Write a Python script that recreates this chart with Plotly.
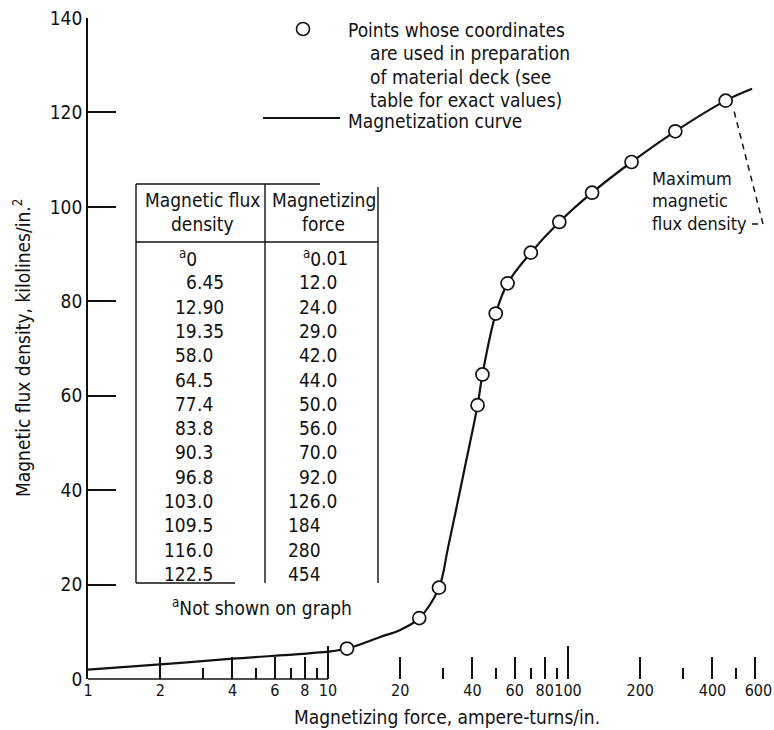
import math
import plotly.graph_objects as go

# ---------------- data ----------------
# table columns, as printed (first row is "not shown on graph")
flux_labels = ["0", "6.45", "12.90", "19.35", "58.0", "64.5", "77.4", "83.8",
               "90.3", "96.8", "103.0", "109.5", "116.0", "122.5"]
force_labels = ["0.01", "12.0", "24.0", "29.0", "42.0", "44.0", "50.0", "56.0",
                "70.0", "92.0", "126.0", "184", "280", "454"]

# plotted points (rows 2..14 of the table)
flux_density = [float(s) for s in flux_labels[1:]]
magnetizing_force = [float(s) for s in force_labels[1:]]

# magnetization curve
curve_force = [1, 2, 4, 10, 12, 16.5, 20, 24, 29, 31.6, 37.2, 42, 44, 50, 56,
               70, 92, 126, 184, 280, 454, 585]
curve_flux = [2.0, 3.1, 4.3, 5.8, 6.45, 8.9, 10.4, 12.9, 19.35, 27.7, 44.9,
              58.0, 64.5, 77.4, 83.8, 90.3, 96.8, 103.0, 109.5, 116.0, 122.5,
              125.0]

x_major_vals = [1, 2, 4, 6, 8, 10, 20, 40, 60, 80, 100, 200, 400, 600]
x_major_text = ["1", "2", "4", "6", "8", "10", "20", "40", "60", "80",
                "100", "200", "400", "\u2002600"]
x_minor_vals = [3, 5, 7, 9, 30, 50, 70, 90, 300, 500]
x_long_vals = [10, 100]
y_tick_vals = [0, 20, 40, 60, 80, 100, 120, 140]

# ---------------- layout geometry ----------------
W, H = 774, 730
ML, MR, MT, MB = 88, 14, 18, 51
XR = [0, 2.8]          # log10 range
YR = [0, 140]
PW = W - ML - MR
PH = H - MT - MB
INK = "#111111"
FONT = "DejaVu Sans Condensed, Liberation Sans Narrow, Arial Narrow, DejaVu Sans, sans-serif"
FS = 19


def xp(sx):
    """screen x (px) -> paper x"""
    return (sx - ML) / PW


def yp(sy):
    """screen y (px) -> paper y"""
    return (H - MB - sy) / PH


fig = go.Figure()

fig.add_trace(go.Scatter(
    x=curve_force, y=curve_flux, mode="lines",
    line=dict(color=INK, width=2.2, shape="spline", smoothing=1.0),
    hoverinfo="skip", showlegend=False))

fig.add_trace(go.Scatter(
    x=magnetizing_force, y=flux_density, mode="markers",
    marker=dict(symbol="circle", size=13, color="white",
                line=dict(color=INK, width=1.7)),
    showlegend=False))

# dummy trace so the overlay axis (long ticks) is rendered
fig.add_trace(go.Scatter(x=[10, 100], y=[None, None], xaxis="x2", yaxis="y",
                         mode="markers", showlegend=False, hoverinfo="skip"))

fig.update_layout(
    width=W, height=H,
    margin=dict(l=ML, r=MR, t=MT, b=MB, pad=0, autoexpand=False),
    paper_bgcolor="white", plot_bgcolor="white",
    font=dict(family=FONT, size=FS, color=INK),
    showlegend=False,
    xaxis=dict(
        type="log", range=XR, tickmode="array",
        tickvals=x_major_vals, ticktext=x_major_text, tickangle=0,
        ticks="inside", ticklen=22, tickwidth=1.6, tickcolor=INK,
        showline=False, showgrid=False, zeroline=False, automargin=False,
        tickfont=dict(family=FONT, size=16, color=INK),
        minor=dict(tickmode="array", tickvals=x_minor_vals, ticks="inside",
                   ticklen=11, tickwidth=1.6, tickcolor=INK, showgrid=False),
    ),
    xaxis2=dict(
        type="log", range=XR, overlaying="x", anchor="y", side="bottom",
        tickmode="array", tickvals=x_long_vals, ticks="inside", ticklen=33,
        tickwidth=1.6, tickcolor=INK, showticklabels=False, automargin=False,
        showline=False, showgrid=False, zeroline=False,
    ),
    yaxis=dict(
        range=YR, tickmode="array", tickvals=y_tick_vals,
        ticks="inside", ticklen=28, tickwidth=1.6, tickcolor=INK,
        showline=True, linewidth=1.8, linecolor=INK, automargin=False,
        showgrid=False, zeroline=False,
        tickfont=dict(family=FONT, size=FS, color=INK),
    ),
)

shapes = []
# partial x baseline (1 to 10)
shapes.append(dict(type="line", xref="paper", yref="paper",
                   x0=0, x1=(math.log10(10) - XR[0]) / (XR[1] - XR[0]),
                   y0=0, y1=0, line=dict(color=INK, width=1.6)))

# legend symbols
shapes.append(dict(type="circle", xref="paper", yref="paper",
                   xsizemode="pixel", ysizemode="pixel",
                   xanchor=xp(303), yanchor=yp(29),
                   x0=-6.5, x1=6.5, y0=-6.5, y1=6.5,
                   line=dict(color=INK, width=1.6), fillcolor="white"))
shapes.append(dict(type="line", xref="paper", yref="paper",
                   x0=xp(263), x1=xp(340), y0=yp(118), y1=yp(118),
                   line=dict(color=INK, width=1.8)))

# leader for "Maximum magnetic flux density"
shapes.append(dict(type="path", xref="paper", yref="paper",
                   path=f"M {xp(752)},{yp(224)} L {xp(763)},{yp(224)} L {xp(733)},{yp(107)}",
                   line=dict(color=INK, width=1.5, dash="6px,5px")))

# table frame
TL, TD, TR = 136, 265, 378
TT, TH, TB = 184, 242, 583
for (x0, y0, x1, y1) in [
    (TL, TT, TL, TB),      # left
    (TL, TT, 320, TT),     # top
    (TD, TT, TD, TB),      # divider
    (TR, 187, TR, TB),     # right
    (TL, TH, TR, TH),      # header rule
    (TL, TB, 235, TB),     # bottom
]:
    shapes.append(dict(type="line", xref="paper", yref="paper",
                       x0=xp(x0), x1=xp(x1), y0=yp(y0), y1=yp(y1),
                       line=dict(color=INK, width=1.4)))

fig.update_layout(shapes=shapes)

ann = []


def text(sx, sy, s, anchor="left", size=FS, angle=0):
    ann.append(dict(xref="paper", yref="paper", x=xp(sx), y=yp(sy), text=s,
                    showarrow=False, xanchor=anchor, yanchor="middle",
                    borderpad=0, borderwidth=0,
                    textangle=angle, font=dict(family=FONT, size=size, color=INK)))


# legend text
text(348, 30, "Points whose coordinates")
text(370, 53, "are used in preparation")
text(370, 77, "of material deck (see")
text(370, 100, "table for exact values)")
text(348, 121, "Magnetization curve")

# max flux density label
text(652, 178, "Maximum", size=18)
text(652, 200, "magnetic", size=18)
text(652, 223, "flux density", size=18)

# table header
text((TL + TD) / 2 + 2, 200, "Magnetic flux", anchor="center")
text((TL + TD) / 2 + 2, 224, "density", anchor="center")
text((TD + TR) / 2 + 2, 200, "Magnetizing", anchor="center")
text((TD + TR) / 2 + 2, 224, "force", anchor="center")

# table rows, aligned on the decimal point
ROW0, ROWH = 258, 24.3
DEC1, DEC2 = 197, 321
for i, (a, b) in enumerate(zip(flux_labels, force_labels)):
    y = ROW0 + i * ROWH
    pre = "<sup>a</sup>" if i == 0 else ""
    for dec, s in ((DEC1, a), (DEC2, b)):
        if "." in s:
            ip, fp = s.split(".")
            text(dec, y, pre + ip, anchor="right")
            text(dec, y, "." + fp, anchor="left")
        else:
            text(dec, y, pre + s, anchor="right")

text(172, 607, "<sup>a</sup>Not shown on graph")

# axis titles
text(447, 717, "Magnetizing force, ampere-turns/in.", anchor="center")
ann.append(dict(xref="paper", yref="paper", x=xp(22), y=yp(348),
                text="Magnetic flux density, kilolines/in.<sup>2</sup>",
                showarrow=False, xanchor="center", yanchor="middle",
                borderpad=0, borderwidth=0,
                textangle=-90, font=dict(family=FONT, size=FS, color=INK)))

fig.update_layout(annotations=ann)

# remove the default page margin so the figure fills the 774x730 window
fig.write_html(
    "out.html",
    config={"displayModeBar": False},
    post_script="document.body.style.margin='0';document.body.style.overflow='hidden';",
)
